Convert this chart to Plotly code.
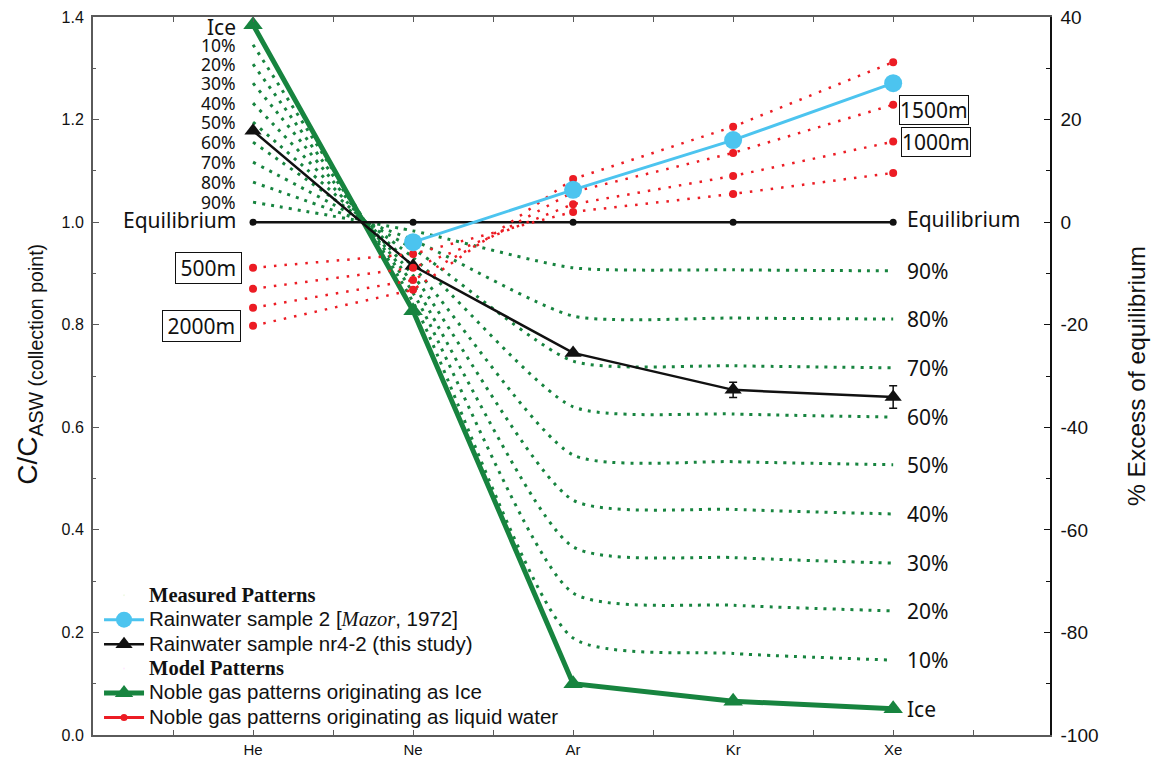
import plotly.graph_objects as go

# Noble gases along the x axis
gases = ["He", "Ne", "Ar", "Kr", "Xe"]
gas_x = [0, 1, 2, 3, 4]
gas_minor = [-0.5, 0.5, 1.5, 2.5, 3.5, 4.5]

# Model patterns: equilibrium and pure ice
equilibrium = [1.0, 1.0, 1.0, 1.0, 1.0]
ice = [1.385, 0.827, 0.100, 0.066, 0.051]

# Ice / water mixtures (percent of equilibrium water)
mix10 = [1.346, 0.844, 0.189, 0.159, 0.146]
mix20 = [1.308, 0.862, 0.277, 0.253, 0.242]
mix30 = [1.271, 0.879, 0.367, 0.346, 0.335]
mix40 = [1.232, 0.896, 0.458, 0.440, 0.431]
mix50 = [1.195, 0.913, 0.546, 0.533, 0.527]
mix60 = [1.156, 0.931, 0.640, 0.626, 0.620]
mix70 = [1.117, 0.948, 0.729, 0.720, 0.716]
mix80 = [1.078, 0.965, 0.817, 0.813, 0.811]
mix90 = [1.039, 0.983, 0.911, 0.907, 0.905]
mix_labels = ["10%", "20%", "30%", "40%", "50%", "60%", "70%", "80%", "90%"]

# Liquid water equilibrated at altitude
alt500 = [0.911, 0.938, 1.020, 1.055, 1.096]
alt1000 = [0.870, 0.911, 1.035, 1.090, 1.157]
alt1500 = [0.833, 0.887, 1.059, 1.135, 1.229]
alt2000 = [0.798, 0.868, 1.084, 1.186, 1.312]

# Measured patterns
mazor_x = [1, 2, 3, 4]
mazor = [0.961, 1.063, 1.160, 1.271]
nr42 = [1.178, 0.915, 0.745, 0.673, 0.659]
nr42_err = [0, 0, 0, 0.015, 0.022]

# Axis ticks
ratio_ticks = [0.0, 0.2, 0.4, 0.6, 0.8, 1.0, 1.2, 1.4]
excess_ticks = [-100, -80, -60, -40, -20, 0, 20, 40]

GREEN = "#17843f"
RED = "#ec1c24"
BLUE = "#4cc4ef"
BLACK = "#111111"
LABEL_FONT = "Noto Sans"
SANS = "Liberation Sans"
SERIF = "Liberation Serif"
LEG_SIZE = "20.5px"


def leg(text, serif=False):
    """Legend text at full size while the row pitch follows the legend font."""
    style = f"font-size:{LEG_SIZE}"
    if serif:
        style += f";font-family:{SERIF}"
    return f"<span style='{style}'>{text}</span>"


fig = go.Figure()

mixes = [mix10, mix20, mix30, mix40, mix50, mix60, mix70, mix80, mix90]
for vals in mixes:
    fig.add_trace(go.Scatter(
        x=gas_x, y=vals, mode="lines", showlegend=False, hoverinfo="skip",
        line=dict(color=GREEN, width=3, dash="3px,6px", shape="spline", smoothing=0.6),
    ))

fig.add_trace(go.Scatter(
    x=gas_x, y=ice, mode="lines+markers",
    name=leg("Noble gas patterns originating as Ice"), legendrank=5,
    line=dict(color=GREEN, width=5),
    marker=dict(symbol="triangle-up", size=17, color=GREEN),
))

fig.add_trace(go.Scatter(
    x=gas_x, y=equilibrium, mode="lines+markers", showlegend=False,
    line=dict(color=BLACK, width=2.5),
    marker=dict(size=7, color=BLACK),
))

fig.add_trace(go.Scatter(
    x=gas_x, y=nr42, mode="lines+markers",
    name=leg("Rainwater sample nr4-2 (this study)"), legendrank=3,
    line=dict(color=BLACK, width=2.5),
    marker=dict(symbol="triangle-up", size=15, color=BLACK),
    error_y=dict(type="data", array=nr42_err, color=BLACK, thickness=1.5, width=4),
))

for vals in [alt500, alt1000, alt1500, alt2000]:
    fig.add_trace(go.Scatter(
        x=gas_x, y=vals, mode="lines+markers", showlegend=False, hoverinfo="skip",
        line=dict(color=RED, width=2.5, dash="2.5px,8px"),
        marker=dict(size=8, color=RED),
    ))

fig.add_trace(go.Scatter(
    x=mazor_x, y=mazor, mode="lines+markers",
    name=leg(f"Rainwater sample 2 [<span style='font-family:{SERIF}'><i>Mazor</i></span>, 1972]"),
    legendrank=2,
    line=dict(color=BLUE, width=3),
    marker=dict(size=18, color=BLUE),
))

# legend-only entries: group headings and the liquid-water key
for rank, head in [(1, "Measured Patterns"), (4, "Model Patterns")]:
    fig.add_trace(go.Scatter(
        x=[None], y=[None], mode="markers", legendrank=rank,
        name=leg(f"<b>{head}</b>", serif=True),
        marker=dict(opacity=0, size=1),
    ))
fig.add_trace(go.Scatter(
    x=[None], y=[None], mode="lines+markers", legendrank=6,
    name=leg("Noble gas patterns originating as liquid water"),
    line=dict(color=RED, width=3), marker=dict(size=7, color=RED),
))

# right-hand axis carries % excess; a hidden trace keeps it on the page
fig.add_trace(go.Scatter(
    x=gas_x, y=[(v - 1) * 100 for v in equilibrium], yaxis="y2",
    mode="lines", showlegend=False, hoverinfo="skip", line=dict(width=0), opacity=0,
))

ann = []
def label(x, y, text, side, size, shift, yshift=0, box=False, pad=2):
    d = dict(x=x, y=y, xref="x", yref="y", text=text, showarrow=False,
             xanchor="right" if side == "l" else "left", yanchor="middle",
             xshift=shift, yshift=yshift,
             font=dict(family=LABEL_FONT, size=size, color=BLACK))
    if box:
        d.update(bordercolor=BLACK, borderwidth=1, borderpad=pad, bgcolor="white")
    ann.append(d)

label(0, ice[0], "Ice", "l", 21, -15, yshift=-2)
label(4, ice[4], "Ice", "r", 21, 12)
label(0, 1.0, "Equilibrium", "l", 21, -15, yshift=2)
label(4, 1.0, "Equilibrium", "r", 21, 12, yshift=3)
for vals, lab in zip(mixes, mix_labels):
    label(0, vals[0], lab, "l", 17.5, -15)
    label(4, vals[4], lab, "r", 21, 12)

label(0, alt500[0], "\u2009500m\u2009", "l", 21, -11, box=True, pad=1)
label(0, alt2000[0], "\u20092000m\u2009", "l", 21, -12, box=True, pad=1)
label(4, alt1500[4], "1500m", "r", 21, 6, yshift=-5, box=True, pad=0)
label(4, alt1000[4], "1000m", "r", 21, 8, box=True, pad=0)

axis_col = "#5a5a5a"
fig.update_layout(
    width=1156, height=759,
    margin=dict(l=93, r=106, t=17, b=24),
    paper_bgcolor="white", plot_bgcolor="white",
    font=dict(family=SANS, color=BLACK),
    annotations=ann,
    xaxis=dict(
        range=[-1, 4.98], tickmode="array", tickvals=gas_x, ticktext=gases,
        ticks="inside", ticklen=5, tickwidth=1.2, tickcolor=axis_col,
        showline=True, linecolor=axis_col, linewidth=1.5, mirror="allticks",
        showgrid=False, zeroline=False, tickfont=dict(size=15), automargin=False,
        minor=dict(tickvals=gas_minor, ticks="inside", ticklen=4, tickcolor=axis_col),
    ),
    yaxis=dict(
        range=[0, 1.4], tickmode="array", tickvals=ratio_ticks,
        ticktext=[f"{v:.1f}" for v in ratio_ticks],
        ticks="inside", ticklen=6, tickwidth=1.2, tickcolor=axis_col,
        showline=True, linecolor=axis_col, linewidth=2, ticklabelstandoff=4,
        showgrid=False, zeroline=False, tickfont=dict(size=16), automargin=False,
        minor=dict(dtick=0.1, ticks="inside", ticklen=3, tickcolor=axis_col),
        title=dict(text="&nbsp;&nbsp;&nbsp;C/C<sub>ASW (collection point)</sub>",
                   font=dict(size=28), standoff=16),
    ),
    yaxis2=dict(
        range=[-100, 40], overlaying="y", side="right", anchor="x",
        tickmode="array", tickvals=excess_ticks,
        ticktext=[str(v) for v in excess_ticks],
        ticks="inside", ticklen=6, tickwidth=1.2, tickcolor=BLACK,
        showline=True, linecolor=BLACK, linewidth=1.5, ticklabelstandoff=5,
        showgrid=False, zeroline=False, tickfont=dict(size=19), automargin=False,
        minor=dict(dtick=10, ticks="inside", ticklen=4, tickcolor=BLACK),
        title=dict(text="% Excess of equilibrium", font=dict(size=24.5), standoff=30),
    ),
    legend=dict(
        x=0.0063, y=0.0, xanchor="left", yanchor="bottom",
        bgcolor="rgba(0,0,0,0)", font=dict(family=SANS, size=16.5, color=BLACK),
        itemwidth=40, tracegroupgap=0, traceorder="normal",
    ),
    showlegend=True,
)

fig.write_html("out.html")
